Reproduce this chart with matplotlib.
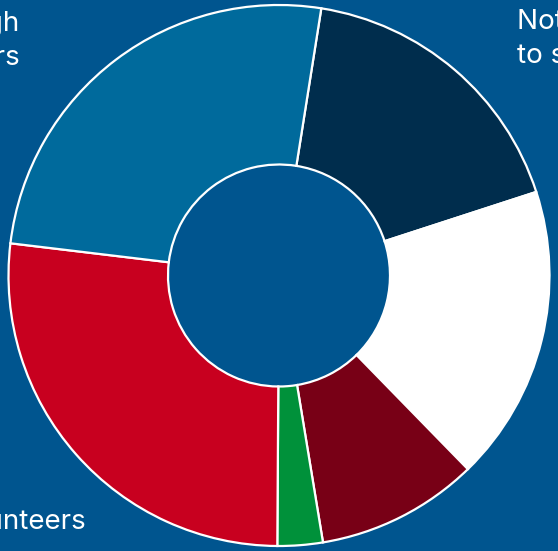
import matplotlib
matplotlib.use("Agg")
import matplotlib.pyplot as plt

# Data (shares of the donut, clockwise from the top boundary)
categories = ["Not able to say", "Other", "Other 2", "Other 3", "Volunteers", "Through employers"]
values = [17.5, 17.7, 9.7, 2.7, 26.8, 25.6]
colors = ["#002D4D", "#FFFFFF", "#780016", "#00913A", "#C8001F", "#006A9C"]

# Visible (cropped) labels
label_texts = ["Through\nemployers", "Not able\nto say", "Volunteers"]

BG = "#00558F"
W, H = 558, 551

fig = plt.figure(figsize=(W / 100, H / 100), dpi=100, facecolor=BG)
ax = fig.add_axes([0, 0, 1, 1])
ax.set_facecolor(BG)

cx, cy, R = 279, H - 275.5, 270.5
ax.pie(values, colors=colors, startangle=81, counterclock=False,
       center=(cx, cy), radius=R,
       wedgeprops=dict(width=R - 111, edgecolor="white", linewidth=1.6))

ax.set_xlim(0, W)
ax.set_ylim(0, H)
ax.set_aspect("equal")
ax.axis("off")

font = dict(family=["Inter", "DejaVu Sans"], color="white", fontsize=20)
LINE = 34


def put(x, y_first, text, ha):
    for i, line in enumerate(text.split("\n")):
        ax.text(x, H - (y_first + i * LINE), line, ha=ha, va="baseline", **font)


put(20, 31, label_texts[0], "right")
put(517, 29, label_texts[1], "left")
put(86, 529, label_texts[2], "right")

fig.savefig("out.png", dpi=100, facecolor=BG)
